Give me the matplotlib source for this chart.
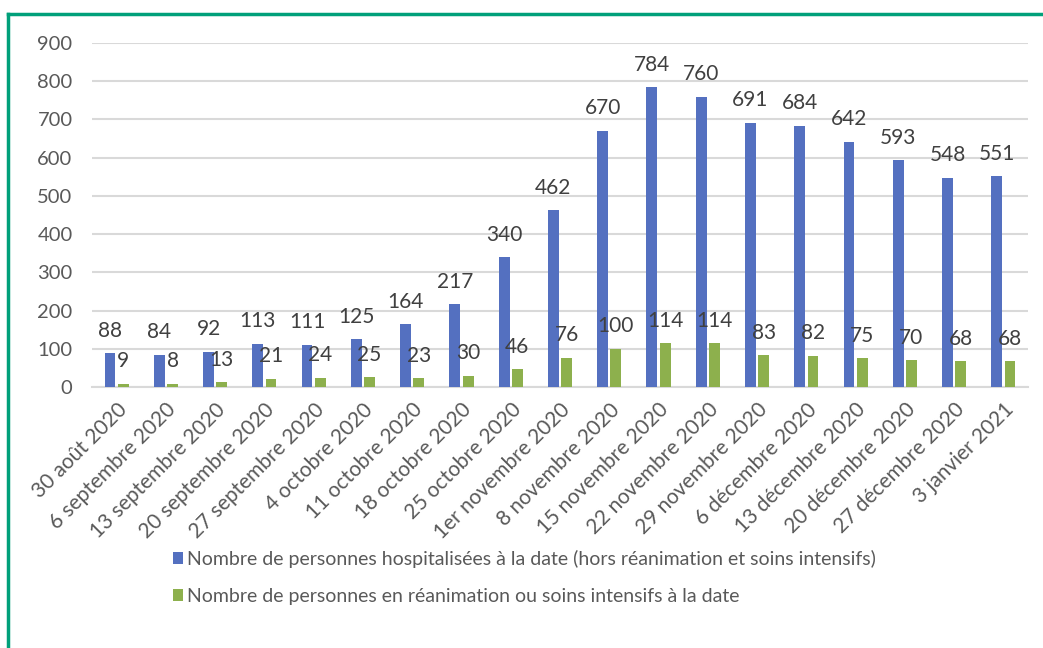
import numpy as np
import matplotlib
matplotlib.use("Agg")
import matplotlib.pyplot as plt
from matplotlib.lines import Line2D

# Data
dates = [
    "30 août 2020", "6 septembre 2020", "13 septembre 2020", "20 septembre 2020",
    "27 septembre 2020", "4 octobre 2020", "11 octobre 2020", "18 octobre 2020",
    "25 octobre 2020", "1er novembre 2020", "8 novembre 2020", "15 novembre 2020",
    "22 novembre 2020", "29 novembre 2020", "6 décembre 2020", "13 décembre 2020",
    "20 décembre 2020", "27 décembre 2020", "3 janvier 2021",
]
hospitalises = [88, 84, 92, 113, 111, 125, 164, 217, 340, 462, 670, 784, 760, 691, 684, 642, 593, 548, 551]
reanimation = [9, 8, 13, 21, 24, 25, 23, 30, 46, 76, 100, 114, 114, 83, 82, 75, 70, 68, 68]

label_hosp = "Nombre de personnes hospitalisées à la date (hors réanimation et soins intensifs)"
label_rea = "Nombre de personnes en réanimation ou soins intensifs à la date"

blue = "#5470C0"
green = "#8DB04D"
text_col = "#595959"

plt.rcParams["font.family"] = ["Lato", "DejaVu Sans"]

fig = plt.figure(figsize=(10.43, 6.48), dpi=100)
ax = fig.add_axes([92 / 1043, 261 / 648, 936 / 1043, 344 / 648])

x = np.arange(len(dates))
w = 0.22
b1 = ax.bar(x - 0.135, hospitalises, w, color=blue, label=label_hosp, zorder=3)
b2 = ax.bar(x + 0.135, reanimation, w, color=green, label=label_rea, zorder=3)

ax.bar_label(b1, padding=9, fontsize=15, color="#404040")
ax.bar_label(b2, padding=9, fontsize=15, color="#404040")

ax.set_xlim(-0.5, len(dates) - 0.5)
ax.set_ylim(0, 900)
ax.set_yticks(range(0, 901, 100))
ax.yaxis.grid(True, color="#D9D9D9", linewidth=1.5, zorder=0)
ax.set_axisbelow(True)
for s in ["top", "right", "left"]:
    ax.spines[s].set_visible(False)
ax.spines["bottom"].set_color("#D9D9D9")
ax.spines["bottom"].set_linewidth(1.5)

ax.set_xticks(x)
ax.set_xticklabels(dates, rotation=45, ha="right", rotation_mode="anchor",
                   fontsize=15, color=text_col)
ax.tick_params(axis="x", length=0, pad=9)
ax.tick_params(axis="y", length=0, pad=14, labelsize=14.5, labelcolor=text_col)

leg = fig.legend(loc="upper left", bbox_to_anchor=(155 / 1043, 1 - 532 / 648),
                 frameon=False, fontsize=14, handlelength=0.55, handleheight=0.6,
                 handletextpad=0.2, labelspacing=1.05, labelcolor=text_col)

# green frame (left and top edges)
fx = 8 / 1043
fy = 1 - 14 / 648
fig.add_artist(Line2D([fx, fx], [0, fy], transform=fig.transFigure, color="#00A07A", linewidth=2.5))
fig.add_artist(Line2D([fx, 1], [fy, fy], transform=fig.transFigure, color="#00A07A", linewidth=2.5))

fig.savefig("out.png", dpi=100)
